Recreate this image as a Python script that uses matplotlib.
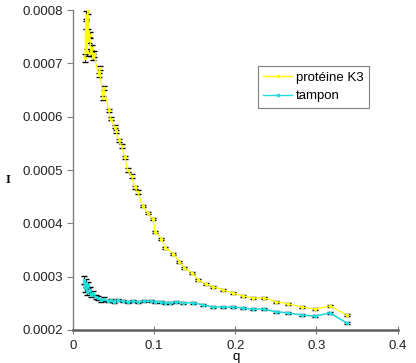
import matplotlib
matplotlib.use("Agg")
import matplotlib.pyplot as plt
from matplotlib.lines import Line2D

# protéine K3 (yellow)
q_prot = [0.0150, 0.0160, 0.0168, 0.0176, 0.0184, 0.0192, 0.0200, 0.0210, 0.0222,
          0.0234, 0.0246, 0.0258, 0.0319, 0.0331, 0.0368, 0.0380, 0.0442, 0.0466,
          0.0515, 0.0530, 0.0564, 0.0601, 0.0638, 0.0675, 0.0724, 0.0761, 0.0798,
          0.0859, 0.0920, 0.0982, 0.1018, 0.1092, 0.1141, 0.1239, 0.1313, 0.1374,
          0.1472, 0.1546, 0.1644, 0.1730, 0.1853, 0.1975, 0.2098, 0.2221, 0.2356,
          0.2503, 0.2650, 0.2822, 0.2982, 0.3166, 0.3374]
I_prot = [0.000710, 0.000791, 0.000772, 0.000721, 0.000800, 0.000759, 0.000744,
          0.000753, 0.000719, 0.000729, 0.000712, 0.000718, 0.000678, 0.000691,
          0.000635, 0.000654, 0.000612, 0.000596, 0.000581, 0.000573, 0.000556,
          0.000545, 0.000524, 0.000500, 0.000489, 0.000468, 0.000459, 0.000433,
          0.000419, 0.000408, 0.000384, 0.000371, 0.000354, 0.000343, 0.000328,
          0.000316, 0.000307, 0.000294, 0.000286, 0.000281, 0.000275, 0.000269,
          0.000264, 0.000260, 0.000260, 0.000253, 0.000249, 0.000243, 0.000239,
          0.000245, 0.000228]
err_prot = [0.000008, 0.000008, 0.000007, 0.000007, 0.000007, 0.000006, 0.000006,
            0.000006, 0.000005, 0.000005, 0.000005, 0.000005, 0.000004, 0.000004,
            0.000004, 0.000004, 0.000003, 0.000003, 0.000003, 0.000003, 0.000003,
            0.000003, 0.000003, 0.000003, 0.000003, 0.000003, 0.000003, 0.000002,
            0.000002, 0.000002, 0.000002, 0.000002, 0.000002, 0.000002, 0.000002,
            0.000002, 0.000002, 0.000002, 0.000002, 0.000002, 0.000002, 0.000002,
            0.000002, 0.000002, 0.000002, 0.000002, 0.000002, 0.000002, 0.000002,
            0.000002, 0.000002]

# tampon (cyan)
q_tamp = [0.0135, 0.0147, 0.0160, 0.0172, 0.0184, 0.0209, 0.0221, 0.0245, 0.0282,
          0.0307, 0.0344, 0.0380, 0.0429, 0.0466, 0.0503, 0.0552, 0.0613, 0.0675,
          0.0736, 0.0798, 0.0871, 0.0957, 0.1018, 0.1080, 0.1141, 0.1202, 0.1276,
          0.1362, 0.1485, 0.1607, 0.1730, 0.1853, 0.1975, 0.2098, 0.2221, 0.2356,
          0.2503, 0.2650, 0.2822, 0.2982, 0.3166, 0.3374]
I_tamp = [0.000294, 0.000279, 0.000288, 0.000271, 0.000284, 0.000275, 0.000266,
          0.000269, 0.000262, 0.000260, 0.000256, 0.000258, 0.000254, 0.000256,
          0.000253, 0.000256, 0.000254, 0.000253, 0.000254, 0.000253, 0.000254,
          0.000254, 0.000253, 0.000253, 0.000251, 0.000251, 0.000253, 0.000251,
          0.000251, 0.000247, 0.000243, 0.000243, 0.000243, 0.000241, 0.000239,
          0.000239, 0.000234, 0.000232, 0.000228, 0.000226, 0.000232, 0.000213]
err_tamp = [0.000008, 0.000007, 0.000007, 0.000006, 0.000006, 0.000005, 0.000005,
            0.000004, 0.000004, 0.000003, 0.000003, 0.000003, 0.000002, 0.000002,
            0.000002, 0.000002, 0.000002, 0.000002, 0.000002, 0.000002, 0.000002,
            0.000002, 0.000002, 0.000002, 0.000002, 0.000002, 0.000002, 0.000002,
            0.000002, 0.000002, 0.000002, 0.000002, 0.000002, 0.000002, 0.000002,
            0.000002, 0.000002, 0.000002, 0.000002, 0.000002, 0.000002, 0.000002]

x_ticks = [0, 0.1, 0.2, 0.3, 0.4]
y_ticks = [0.0002, 0.0003, 0.0004, 0.0005, 0.0006, 0.0007, 0.0008]

YELLOW = "#ffff00"
CYAN = "#22dddd"

plt.rcParams["font.family"] = ["Liberation Sans", "DejaVu Sans"]

fig = plt.figure(figsize=(4.16, 3.63), dpi=100)
ax = fig.add_axes([0.175, 0.091, 0.781, 0.881])

ax.errorbar(q_prot, I_prot, yerr=err_prot, color=YELLOW, lw=0.9,
            marker="s", ms=1.8, mfc=YELLOW, mec=YELLOW,
            ecolor="black", elinewidth=0.6, capsize=2.5, capthick=1)
ax.errorbar(q_tamp, I_tamp, yerr=err_tamp, color=CYAN, lw=1.2,
            marker="s", ms=1.8, mfc=CYAN, mec=CYAN,
            ecolor="black", elinewidth=0.6, capsize=2.5, capthick=1)

ax.set_xlim(0, 0.4)
ax.set_ylim(0.0002, 0.0008)
ax.set_xticks(x_ticks)
ax.set_xticklabels(["0", "0.1", "0.2", "0.3", "0.4"])
ax.set_yticks(y_ticks)
ax.set_yticklabels(["%.4f" % v for v in y_ticks])

for s in ["top", "right"]:
    ax.spines[s].set_visible(False)
ax.spines["left"].set_color("#808080")
ax.spines["left"].set_linewidth(1)
ax.spines["bottom"].set_color("#606060")
ax.spines["bottom"].set_linewidth(1.8)
ax.tick_params(axis="y", direction="out", length=4, color="#808080",
               labelsize=9.5, labelcolor="#222222", pad=3)
ax.tick_params(axis="x", direction="inout", length=6, color="#808080",
               labelsize=9.5, labelcolor="#222222", pad=4)

fig.text(0.567, 0.0, "q", fontsize=9.5, ha="center", va="bottom")
fig.text(0.02, 0.505, "I", family="Liberation Serif", fontsize=9,
         fontweight="bold", ha="center", va="center")

handles = [Line2D([], [], color=YELLOW, lw=1, marker="s", ms=1.8),
           Line2D([], [], color=CYAN, lw=1, marker="s", ms=1.8)]
leg = ax.legend(handles, ["protéine K3", "tampon"], loc="upper left",
                bbox_to_anchor=(0.57, 0.825), fontsize=9.5,
                fancybox=False, edgecolor="#808080", framealpha=1,
                handlelength=2.2, handletextpad=0.3, borderpad=0.4,
                labelspacing=0.5, borderaxespad=0)
leg.get_frame().set_linewidth(0.8)

fig.savefig("out.png", dpi=100)
